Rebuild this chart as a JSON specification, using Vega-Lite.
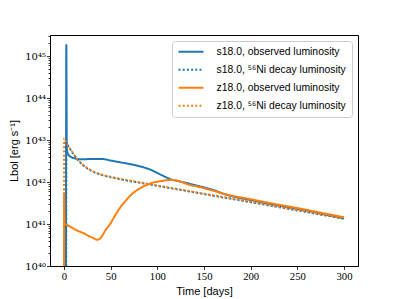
{
  "$schema": "https://vega.github.io/schema/vega-lite/v6.json",
  "width": 308,
  "height": 231,
  "autosize": {"type": "none"},
  "padding": {"left": 50, "top": 35, "right": 41, "bottom": 33},
  "background": "white",
  "config": {
    "view": {"stroke": "#000", "strokeWidth": 1},
    "axis": {"grid": false, "domainColor": "#000", "tickColor": "#000", "tickWidth": 0.8, "labelColor": "#000", "titleColor": "#000"}
  },
  "data": {
    "values": [
      {"series": "s18.0, observed luminosity", "t": 2.0, "L": 1e38},
      {"series": "s18.0, observed luminosity", "t": 2.5, "L": 1.82e45},
      {"series": "s18.0, observed luminosity", "t": 3.0, "L": 5.75e42},
      {"series": "s18.0, observed luminosity", "t": 4.0, "L": 4.79e42},
      {"series": "s18.0, observed luminosity", "t": 5.4, "L": 4.27e42},
      {"series": "s18.0, observed luminosity", "t": 8, "L": 3.89e42},
      {"series": "s18.0, observed luminosity", "t": 12, "L": 3.63e42},
      {"series": "s18.0, observed luminosity", "t": 20, "L": 3.47e42},
      {"series": "s18.0, observed luminosity", "t": 30, "L": 3.55e42},
      {"series": "s18.0, observed luminosity", "t": 40, "L": 3.55e42},
      {"series": "s18.0, observed luminosity", "t": 50, "L": 3.24e42},
      {"series": "s18.0, observed luminosity", "t": 60, "L": 2.95e42},
      {"series": "s18.0, observed luminosity", "t": 70, "L": 2.69e42},
      {"series": "s18.0, observed luminosity", "t": 82, "L": 2.34e42},
      {"series": "s18.0, observed luminosity", "t": 93, "L": 1.95e42},
      {"series": "s18.0, observed luminosity", "t": 104, "L": 1.48e42},
      {"series": "s18.0, observed luminosity", "t": 114, "L": 1.17e42},
      {"series": "s18.0, observed luminosity", "t": 125, "L": 1.02e42},
      {"series": "s18.0, observed luminosity", "t": 136, "L": 8.9e41},
      {"series": "s18.0, observed luminosity", "t": 147, "L": 7.76e41},
      {"series": "s18.0, observed luminosity", "t": 157, "L": 6.76e41},
      {"series": "s18.0, observed luminosity", "t": 175, "L": 4.9e41},
      {"series": "s18.0, observed luminosity", "t": 200, "L": 3.72e41},
      {"series": "s18.0, observed luminosity", "t": 225, "L": 2.88e41},
      {"series": "s18.0, observed luminosity", "t": 250, "L": 2.29e41},
      {"series": "s18.0, observed luminosity", "t": 275, "L": 1.78e41},
      {"series": "s18.0, observed luminosity", "t": 300, "L": 1.35e41},

      {"series": "s18.0, ⁵⁶Ni decay luminosity", "t": 2.4, "L": 1e38},
      {"series": "s18.0, ⁵⁶Ni decay luminosity", "t": 2.5, "L": 8.6e42},
      {"series": "s18.0, ⁵⁶Ni decay luminosity", "t": 3, "L": 8.2e42},
      {"series": "s18.0, ⁵⁶Ni decay luminosity", "t": 5, "L": 6.9e42},
      {"series": "s18.0, ⁵⁶Ni decay luminosity", "t": 8, "L": 5.4e42},
      {"series": "s18.0, ⁵⁶Ni decay luminosity", "t": 10, "L": 4.64e42},
      {"series": "s18.0, ⁵⁶Ni decay luminosity", "t": 15, "L": 3.33e42},
      {"series": "s18.0, ⁵⁶Ni decay luminosity", "t": 20, "L": 2.56e42},
      {"series": "s18.0, ⁵⁶Ni decay luminosity", "t": 25, "L": 2.10e42},
      {"series": "s18.0, ⁵⁶Ni decay luminosity", "t": 30, "L": 1.81e42},
      {"series": "s18.0, ⁵⁶Ni decay luminosity", "t": 40, "L": 1.48e42},
      {"series": "s18.0, ⁵⁶Ni decay luminosity", "t": 50, "L": 1.30e42},
      {"series": "s18.0, ⁵⁶Ni decay luminosity", "t": 60, "L": 1.16e42},
      {"series": "s18.0, ⁵⁶Ni decay luminosity", "t": 80, "L": 9.68e41},
      {"series": "s18.0, ⁵⁶Ni decay luminosity", "t": 100, "L": 8.07e41},
      {"series": "s18.0, ⁵⁶Ni decay luminosity", "t": 125, "L": 6.46e41},
      {"series": "s18.0, ⁵⁶Ni decay luminosity", "t": 150, "L": 5.15e41},
      {"series": "s18.0, ⁵⁶Ni decay luminosity", "t": 175, "L": 4.12e41},
      {"series": "s18.0, ⁵⁶Ni decay luminosity", "t": 200, "L": 3.29e41},
      {"series": "s18.0, ⁵⁶Ni decay luminosity", "t": 225, "L": 2.63e41},
      {"series": "s18.0, ⁵⁶Ni decay luminosity", "t": 250, "L": 2.10e41},
      {"series": "s18.0, ⁵⁶Ni decay luminosity", "t": 275, "L": 1.67e41},
      {"series": "s18.0, ⁵⁶Ni decay luminosity", "t": 300, "L": 1.34e41},

      {"series": "z18.0, observed luminosity", "t": 0, "L": 1e38},
      {"series": "z18.0, observed luminosity", "t": 0.2, "L": 5.37e41},
      {"series": "z18.0, observed luminosity", "t": 0.6, "L": 1.0e41},
      {"series": "z18.0, observed luminosity", "t": 3, "L": 9.55e40},
      {"series": "z18.0, observed luminosity", "t": 8, "L": 8.32e40},
      {"series": "z18.0, observed luminosity", "t": 12.6, "L": 7.24e40},
      {"series": "z18.0, observed luminosity", "t": 20, "L": 6.17e40},
      {"series": "z18.0, observed luminosity", "t": 27, "L": 5.13e40},
      {"series": "z18.0, observed luminosity", "t": 32, "L": 4.57e40},
      {"series": "z18.0, observed luminosity", "t": 35.5, "L": 4.2e40},
      {"series": "z18.0, observed luminosity", "t": 39, "L": 4.6e40},
      {"series": "z18.0, observed luminosity", "t": 44.7, "L": 7.24e40},
      {"series": "z18.0, observed luminosity", "t": 50, "L": 1.05e41},
      {"series": "z18.0, observed luminosity", "t": 53.6, "L": 1.45e41},
      {"series": "z18.0, observed luminosity", "t": 60.8, "L": 2.57e41},
      {"series": "z18.0, observed luminosity", "t": 66, "L": 3.55e41},
      {"series": "z18.0, observed luminosity", "t": 71.6, "L": 4.9e41},
      {"series": "z18.0, observed luminosity", "t": 82.3, "L": 7.24e41},
      {"series": "z18.0, observed luminosity", "t": 93, "L": 9.33e41},
      {"series": "z18.0, observed luminosity", "t": 104, "L": 1.05e42},
      {"series": "z18.0, observed luminosity", "t": 114, "L": 1.12e42},
      {"series": "z18.0, observed luminosity", "t": 122, "L": 1.07e42},
      {"series": "z18.0, observed luminosity", "t": 132, "L": 8.91e41},
      {"series": "z18.0, observed luminosity", "t": 147, "L": 7.41e41},
      {"series": "z18.0, observed luminosity", "t": 157, "L": 6.46e41},
      {"series": "z18.0, observed luminosity", "t": 175, "L": 5.01e41},
      {"series": "z18.0, observed luminosity", "t": 200, "L": 3.89e41},
      {"series": "z18.0, observed luminosity", "t": 225, "L": 3.02e41},
      {"series": "z18.0, observed luminosity", "t": 250, "L": 2.40e41},
      {"series": "z18.0, observed luminosity", "t": 275, "L": 1.86e41},
      {"series": "z18.0, observed luminosity", "t": 300, "L": 1.45e41},

      {"series": "z18.0, ⁵⁶Ni decay luminosity", "t": 0, "L": 1e38},
      {"series": "z18.0, ⁵⁶Ni decay luminosity", "t": 0.05, "L": 1.107e43},
      {"series": "z18.0, ⁵⁶Ni decay luminosity", "t": 1, "L": 1.007e43},
      {"series": "z18.0, ⁵⁶Ni decay luminosity", "t": 2, "L": 9.18e42},
      {"series": "z18.0, ⁵⁶Ni decay luminosity", "t": 3, "L": 8.39e42},
      {"series": "z18.0, ⁵⁶Ni decay luminosity", "t": 5, "L": 7.05e42},
      {"series": "z18.0, ⁵⁶Ni decay luminosity", "t": 8, "L": 5.52e42},
      {"series": "z18.0, ⁵⁶Ni decay luminosity", "t": 10, "L": 4.75e42},
      {"series": "z18.0, ⁵⁶Ni decay luminosity", "t": 15, "L": 3.41e42},
      {"series": "z18.0, ⁵⁶Ni decay luminosity", "t": 20, "L": 2.62e42},
      {"series": "z18.0, ⁵⁶Ni decay luminosity", "t": 25, "L": 2.15e42},
      {"series": "z18.0, ⁵⁶Ni decay luminosity", "t": 30, "L": 1.85e42},
      {"series": "z18.0, ⁵⁶Ni decay luminosity", "t": 40, "L": 1.51e42},
      {"series": "z18.0, ⁵⁶Ni decay luminosity", "t": 50, "L": 1.33e42},
      {"series": "z18.0, ⁵⁶Ni decay luminosity", "t": 60, "L": 1.19e42},
      {"series": "z18.0, ⁵⁶Ni decay luminosity", "t": 80, "L": 9.91e41},
      {"series": "z18.0, ⁵⁶Ni decay luminosity", "t": 100, "L": 8.26e41},
      {"series": "z18.0, ⁵⁶Ni decay luminosity", "t": 125, "L": 6.61e41},
      {"series": "z18.0, ⁵⁶Ni decay luminosity", "t": 150, "L": 5.27e41},
      {"series": "z18.0, ⁵⁶Ni decay luminosity", "t": 175, "L": 4.22e41},
      {"series": "z18.0, ⁵⁶Ni decay luminosity", "t": 200, "L": 3.37e41},
      {"series": "z18.0, ⁵⁶Ni decay luminosity", "t": 225, "L": 2.69e41},
      {"series": "z18.0, ⁵⁶Ni decay luminosity", "t": 250, "L": 2.15e41},
      {"series": "z18.0, ⁵⁶Ni decay luminosity", "t": 275, "L": 1.71e41},
      {"series": "z18.0, ⁵⁶Ni decay luminosity", "t": 300, "L": 1.37e41}
    ]
  },
  "mark": {"type": "line", "clip": true, "strokeWidth": 2, "interpolate": "monotone"},
  "encoding": {
    "x": {
      "field": "t", "type": "quantitative",
      "scale": {"domain": [-15, 315], "nice": false, "zero": false},
      "axis": {
        "title": "Time [days]", "values": [0, 50, 100, 150, 200, 250, 300],
        "labelFont": "Liberation Serif, DejaVu Serif", "labelFontSize": 10.7, "labelPadding": 2,
        "tickSize": 3.5, "titleFont": "Liberation Sans", "titleFontSize": 11, "titleFontWeight": "normal", "titlePadding": 4
      }
    },
    "y": {
      "field": "L", "type": "quantitative",
      "scale": {"type": "log", "domain": [1e40, 3.1623e45], "nice": false},
      "axis": {
        "title": "Lbol [erg s⁻¹]",
        "values": [1e40, 2e40, 3e40, 4e40, 5e40, 6e40, 7e40, 8e40, 9e40,
                   1e41, 2e41, 3e41, 4e41, 5e41, 6e41, 7e41, 8e41, 9e41,
                   1e42, 2e42, 3e42, 4e42, 5e42, 6e42, 7e42, 8e42, 9e42,
                   1e43, 2e43, 3e43, 4e43, 5e43, 6e43, 7e43, 8e43, 9e43,
                   1e44, 2e44, 3e44, 4e44, 5e44, 6e44, 7e44, 8e44, 9e44,
                   1e45, 2e45, 3e45],
        "labelExpr": "datum.value == 1e40 ? '10⁴⁰' : datum.value == 1e41 ? '10⁴¹' : datum.value == 1e42 ? '10⁴²' : datum.value == 1e43 ? '10⁴³' : datum.value == 1e44 ? '10⁴⁴' : datum.value == 1e45 ? '10⁴⁵' : ''",
        "tickSize": {"condition": {"test": "indexof([1e40,1e41,1e42,1e43,1e44,1e45], datum.value) >= 0", "value": 3.5}, "value": 2},
        "labelFont": "DejaVu Serif", "labelFontSize": 10, "labelPadding": 1,
        "labelOverlap": false, "labelBound": false,
        "titleFont": "Liberation Sans", "titleFontSize": 11, "titleFontWeight": "normal", "titlePadding": 5
      }
    },
    "color": {
      "field": "series", "type": "nominal",
      "scale": {
        "domain": ["s18.0, observed luminosity", "s18.0, ⁵⁶Ni decay luminosity", "z18.0, observed luminosity", "z18.0, ⁵⁶Ni decay luminosity"],
        "range": ["#1f77b4", "#1f77b4", "#ff7f0e", "#ff7f0e"]
      },
      "legend": {
        "title": null, "orient": "top-right", "offset": 6,
        "symbolType": "stroke", "symbolSize": 625, "symbolStrokeWidth": 2,
        "labelFont": "Liberation Sans", "labelFontSize": 10.4, "labelOffset": 12, "labelLimit": 300,
        "clipHeight": 10.4,
        "padding": 5.5, "rowPadding": 7,
        "fillColor": "white", "strokeColor": "#cccccc", "cornerRadius": 3
      }
    },
    "strokeDash": {
      "field": "series", "type": "nominal",
      "scale": {
        "domain": ["s18.0, observed luminosity", "s18.0, ⁵⁶Ni decay luminosity", "z18.0, observed luminosity", "z18.0, ⁵⁶Ni decay luminosity"],
        "range": [[1, 0], [2, 2.2], [1, 0], [2, 2.2]]
      }
    }
  }
}
